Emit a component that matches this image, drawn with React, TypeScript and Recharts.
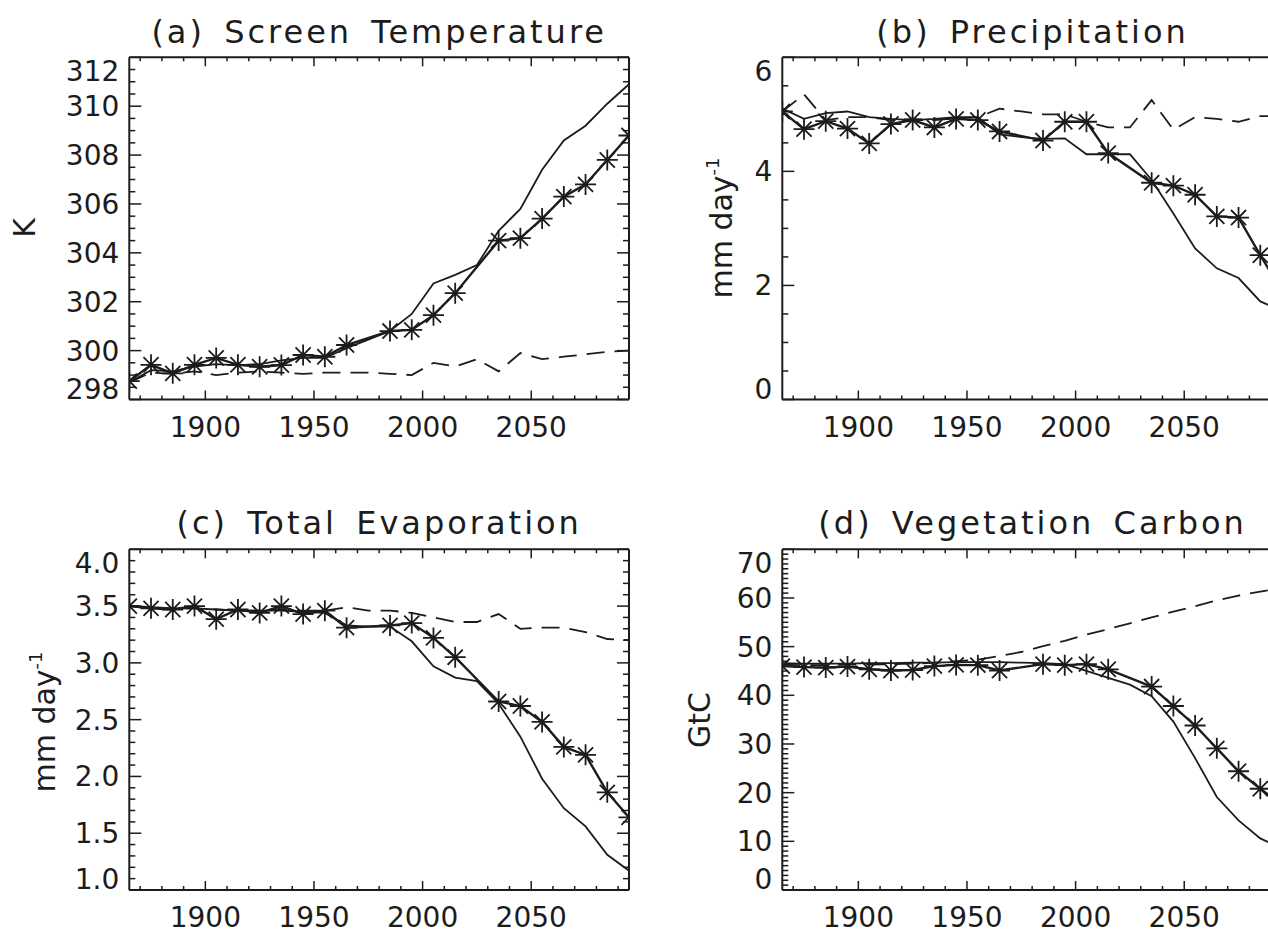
import React from "react";
import { LineChart, Line, XAxis, YAxis } from "recharts";

// decadal sample years; the asterisk runs have no value for 1975 and 2025
const years = [1865, 1875, 1885, 1895, 1905, 1915, 1925, 1935, 1945, 1955, 1965, 1975, 1985, 1995, 2005, 2015, 2025, 2035, 2045, 2055, 2065, 2075, 2085, 2095];

const tempStar = [298.75, 299.42, 299.07, 299.42, 299.7, 299.42, 299.34, 299.41, 299.82, 299.75, 300.23, null, 300.8, 300.85, 301.45, 302.35, null, 304.5, 304.6, 305.4, 306.3, 306.8, 307.8, 308.8];
const tempSolid = [298.7, 299.2, 299.15, 299.35, 299.45, 299.4, 299.45, 299.6, 299.7, 299.7, 300.1, 300.45, 300.8, 301.5, 302.75, 303.1, 303.5, 304.9, 305.8, 307.4, 308.6, 309.2, 310.1, 310.9];
const tempDash = [298.7, 299.1, 299.05, 299.15, 299.0, 299.1, 299.15, 299.1, 299.05, 299.1, 299.1, 299.1, 299.05, 299.0, 299.5, 299.35, 299.65, 299.15, 299.9, 299.65, 299.75, 299.85, 299.95, 300.0];

const precStar = [5.05, 4.74, 4.88, 4.75, 4.49, 4.83, 4.9, 4.77, 4.92, 4.9, 4.7, null, 4.54, 4.87, 4.87, 4.32, null, 3.8, 3.75, 3.59, 3.21, 3.19, 2.53, 1.9];
const precSolid = [5.1, 4.92, 5.02, 5.05, 4.95, 4.92, 4.9, 4.92, 4.95, 4.95, 4.65, 4.6, 4.57, 4.58, 4.3, 4.3, 4.3, 3.85, 3.26, 2.65, 2.3, 2.13, 1.72, 1.55];
const precDash = [5.05, 5.35, 4.9, 4.95, 4.95, 4.9, 4.92, 4.9, 4.93, 4.95, 5.1, 5.05, 5.0, 5.0, 4.87, 4.77, 4.77, 5.25, 4.73, 4.95, 4.92, 4.87, 4.97, 4.97];

const evapStar = [3.5, 3.48, 3.47, 3.5, 3.385, 3.47, 3.44, 3.5, 3.43, 3.46, 3.31, null, 3.33, 3.35, 3.22, 3.05, null, 2.66, 2.62, 2.48, 2.26, 2.19, 1.86, 1.64];
const evapSolid = [3.5, 3.49, 3.48, 3.48, 3.47, 3.46, 3.46, 3.46, 3.45, 3.44, 3.33, 3.32, 3.32, 3.19, 2.97, 2.87, 2.84, 2.64, 2.35, 1.98, 1.72, 1.56, 1.31, 1.17];
const evapDash = [3.5, 3.49, 3.48, 3.48, 3.47, 3.46, 3.46, 3.47, 3.46, 3.46, 3.49, 3.46, 3.46, 3.44, 3.4, 3.36, 3.36, 3.43, 3.3, 3.31, 3.31, 3.27, 3.21, 3.2];

const vegStar = [46.0, 45.8, 45.7, 45.9, 45.35, 45.1, 45.2, 46.0, 46.25, 46.2, 45.1, null, 46.4, 46.2, 46.4, 45.35, null, 41.8, 37.8, 33.8, 29.1, 24.4, 20.8, 17.5];
const vegSolid = [46.6, 46.5, 46.5, 46.5, 46.6, 46.6, 46.7, 46.7, 46.8, 46.8, 46.8, 46.7, 46.6, 46.4, 45.0, 43.6, 42.2, 39.8, 34.6, 27.1, 19.1, 14.3, 10.6, 8.5];
const vegDash = [46.3, 46.2, 46.2, 46.3, 46.3, 46.4, 46.5, 46.7, 47.0, 47.3, 48.1, 48.9, 50.1, 51.2, 52.5, 53.6, 54.8, 56.0, 57.2, 58.3, 59.5, 60.5, 61.3, 62.0];

// axis ticks
const xLabels = [1900, 1950, 2000, 2050];
const xMinor = [1870, 1880, 1890, 1900, 1910, 1920, 1930, 1940, 1950, 1960, 1970, 1980, 1990, 2000, 2010, 2020, 2030, 2040, 2050, 2060, 2070, 2080, 2090];
const tempLabels = [298, 300, 302, 304, 306, 308, 310, 312];
const precLabels = [0, 2, 4, 6];
const evapLabels = [1.0, 1.5, 2.0, 2.5, 3.0, 3.5, 4.0];
const vegLabels = [0, 10, 20, 30, 40, 50, 60, 70];

const INK = "#1c1c1c";
const FONT = "'DejaVu Sans', sans-serif";

function steps(min: number, max: number, step: number) {
  const out: number[] = [];
  const n = Math.round((max - min) / step);
  for (let i = 0; i <= n; i++) out.push(+(min + i * step).toFixed(4));
  return out;
}

const near = (a: number, b: number) => Math.abs(a - b) < 1e-6;

function BottomTick(props: any) {
  const { x, y, payload } = props;
  const major = xLabels.some((v) => near(v, payload.value));
  return (
    <g>
      <line x1={x} x2={x} y1={y} y2={y - (major ? 9 : 4)} stroke={INK} strokeWidth={1.5} />
      {major && (
        <text x={x} y={y + 37} textAnchor="middle" fontSize={28} fontFamily={FONT} fill={INK}>
          {payload.value}
        </text>
      )}
    </g>
  );
}

function TopTick(props: any) {
  const { x, y, payload } = props;
  const major = xLabels.some((v) => near(v, payload.value));
  return <line x1={x} x2={x} y1={y} y2={y + (major ? 9 : 4)} stroke={INK} strokeWidth={1.5} />;
}

function leftTick(labels: number[], digits: number) {
  const lo = labels[0];
  const hi = labels[labels.length - 1];
  return (props: any) => {
    const { x, y, payload } = props;
    const v = payload.value;
    const major = labels.some((l) => near(l, v));
    let base = y + 10;
    if (near(v, lo)) base = y - 1;
    if (near(v, hi)) base = y + 24;
    return (
      <g>
        <line x1={x} x2={x + (major ? 12 : 6)} y1={y} y2={y} stroke={INK} strokeWidth={1.5} />
        {major && (
          <text x={x - 10} y={base} textAnchor="end" fontSize={28} fontFamily={FONT} fill={INK}>
            {v.toFixed(digits)}
          </text>
        )}
      </g>
    );
  };
}

function rightTick(labels: number[]) {
  return (props: any) => {
    const { x, y, payload } = props;
    const major = labels.some((l) => near(l, payload.value));
    return <line x1={x} x2={x - (major ? 12 : 6)} y1={y} y2={y} stroke={INK} strokeWidth={1.5} />;
  };
}

function Asterisk(props: any) {
  const { cx, cy, value } = props;
  if (cx == null || cy == null || value == null) return <g />;
  const r = 10.5;
  const d = r * 0.72;
  return (
    <path
      d={`M${cx - r},${cy}H${cx + r}M${cx},${cy - r}V${cy + r}M${cx - d},${cy - d}L${cx + d},${cy + d}M${cx - d},${cy + d}L${cx + d},${cy - d}`}
      stroke={INK}
      strokeWidth={1.8}
      fill="none"
    />
  );
}

type PanelProps = {
  star: (number | null)[];
  solid: number[];
  dash: number[];
  labels: number[];
  minorStep: number;
  digits: number;
  left: number;
  top: number;
  bottom: number;
};

function Panel({ star, solid, dash, labels, minorStep, digits, left, top, bottom }: PanelProps) {
  const rows = years.map((year, i) => ({ year, star: star[i], solid: solid[i], dash: dash[i] }));
  const lo = labels[0];
  const hi = labels[labels.length - 1];
  const yTicks = steps(lo, hi, minorStep);
  const axisLine = { stroke: INK, strokeWidth: 2 };
  return (
    <div style={{ position: "absolute", left, top }}>
      <LineChart width={640} height={467} data={rows} margin={{ top: 56.3, right: 10, bottom, left: 128.3 }}>
        <XAxis xAxisId="b" dataKey="year" type="number" domain={[1865, 2095]} ticks={xMinor} interval={0}
          height={1} tickSize={0} tickMargin={0} tickLine={false} axisLine={axisLine} tick={BottomTick} allowDataOverflow />
        <XAxis xAxisId="t" orientation="top" dataKey="year" type="number" domain={[1865, 2095]} ticks={xMinor} interval={0}
          height={1} tickSize={0} tickMargin={0} tickLine={false} axisLine={axisLine} tick={TopTick} allowDataOverflow />
        <YAxis yAxisId="l" type="number" domain={[lo, hi]} ticks={yTicks} interval={0} width={1}
          tickSize={0} tickMargin={0} tickLine={false} axisLine={axisLine} tick={leftTick(labels, digits)} allowDataOverflow />
        <YAxis yAxisId="r" orientation="right" type="number" domain={[lo, hi]} ticks={yTicks} interval={0} width={1}
          tickSize={0} tickMargin={0} tickLine={false} axisLine={axisLine} tick={rightTick(labels)} allowDataOverflow />
        <Line xAxisId="b" yAxisId="l" dataKey="dash" type="linear" stroke={INK} strokeWidth={1.8}
          strokeDasharray="18 10" dot={false} isAnimationActive={false} />
        <Line xAxisId="b" yAxisId="l" dataKey="solid" type="linear" stroke={INK} strokeWidth={1.8}
          dot={false} isAnimationActive={false} />
        <Line xAxisId="b" yAxisId="l" dataKey="star" type="linear" stroke={INK} strokeWidth={2.4}
          connectNulls dot={Asterisk} isAnimationActive={false} />
      </LineChart>
    </div>
  );
}

function YTitle({ x, y, text, sup }: { x: number; y: number; text: string; sup?: string }) {
  return (
    <text x={x} y={y} transform={`rotate(-90 ${x} ${y})`} textAnchor="middle" fontSize={30} fontFamily={FONT} fill={INK}>
      {text}
      {sup && (
        <tspan dy={-13} fontSize={18}>
          {sup}
        </tspan>
      )}
    </text>
  );
}

function Title({ x, y, text }: { x: number; y: number; text: string }) {
  return (
    <text x={x} y={y} textAnchor="middle" fontSize={32} fontFamily={FONT} fill={INK}
      style={{ letterSpacing: "3px", wordSpacing: "6px" }}>
      {text}
    </text>
  );
}

export default function App() {
  return (
    <div style={{ position: "fixed", left: 0, top: 0, width: 1268, height: 934, overflow: "hidden", background: "#fff" }}>
      <Panel star={tempStar} solid={tempSolid} dash={tempDash} labels={tempLabels} minorStep={0.5} digits={0} left={0} top={0} bottom={66.5} />
      <Panel star={precStar} solid={precSolid} dash={precDash} labels={precLabels} minorStep={0.5} digits={0} left={653.4} top={0} bottom={66.5} />
      <Panel star={evapStar} solid={evapSolid} dash={evapDash} labels={evapLabels} minorStep={0.1} digits={1} left={0} top={492} bottom={68} />
      <Panel star={vegStar} solid={vegSolid} dash={vegDash} labels={vegLabels} minorStep={1} digits={0} left={653.4} top={492} bottom={68} />
      <svg width={1268} height={934} style={{ position: "absolute", left: 0, top: 0, pointerEvents: "none" }}>
        <Title x={379.2} y={43} text="(a) Screen Temperature" />
        <Title x={1032.6} y={43} text="(b) Precipitation" />
        <Title x={379.2} y={534} text="(c) Total Evaporation" />
        <Title x={1032.6} y={534} text="(d) Vegetation Carbon" />
        <YTitle x={35} y={228} text="K" />
        <YTitle x={732} y={228} text="mm day" sup="-1" />
        <YTitle x={55} y={722} text="mm day" sup="-1" />
        <YTitle x={710} y={720} text="GtC" />
      </svg>
    </div>
  );
}
